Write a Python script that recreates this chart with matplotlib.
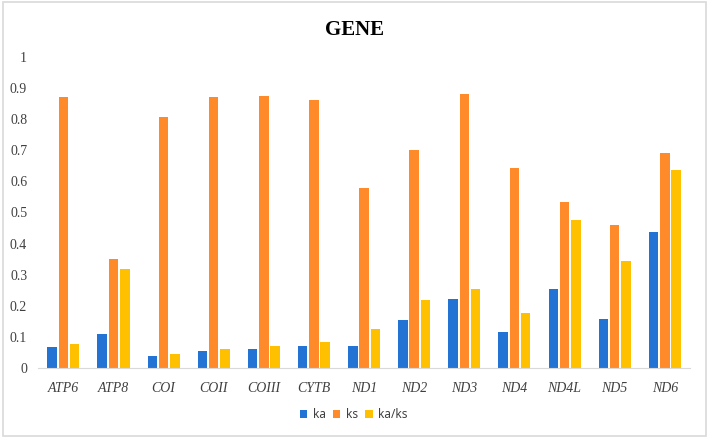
import matplotlib
matplotlib.use("Agg")
import matplotlib.pyplot as plt
import numpy as np
from matplotlib.patches import Rectangle

genes = ["ATP6", "ATP8", "COI", "COII", "COIII", "CYTB", "ND1", "ND2", "ND3", "ND4", "ND4L", "ND5", "ND6"]
ka = [0.067, 0.110, 0.038, 0.053, 0.062, 0.072, 0.072, 0.153, 0.222, 0.114, 0.255, 0.158, 0.438]
ks = [0.872, 0.350, 0.806, 0.872, 0.876, 0.860, 0.577, 0.700, 0.880, 0.643, 0.535, 0.460, 0.690]
ka_ks = [0.077, 0.317, 0.046, 0.061, 0.071, 0.084, 0.126, 0.220, 0.253, 0.178, 0.476, 0.343, 0.637]
yticks = [0, 0.1, 0.2, 0.3, 0.4, 0.5, 0.6, 0.7, 0.8, 0.9, 1]
ytick_labels = ["0", "0.1", "0.2", "0.3", "0.4", "0.5", "0.6", "0.7", "0.8", "0.9", "1"]

colors = ["#2273D3", "#FF8A2A", "#FFC000"]

fig = plt.figure(figsize=(7.09, 4.38), dpi=100)
fig.patches.append(Rectangle((0.004, 0.004), 0.992, 0.992, transform=fig.transFigure,
                             fill=False, edgecolor="#D9D9D9", linewidth=1.2))
ax = fig.add_axes([0.054, 0.16, 0.919, 0.71])

x = np.arange(len(genes))
w = 0.19
gap = 0.035
ax.bar(x - (w + gap), ka, w, color=colors[0], label="ka")
ax.bar(x, ks, w, color=colors[1], label="ks")
ax.bar(x + (w + gap), ka_ks, w, color=colors[2], label="ka/ks")

ax.set_xlim(-0.5, len(genes) - 0.5)
ax.set_ylim(0, 1)
ax.set_yticks(yticks)
ax.set_yticklabels(ytick_labels, fontfamily="Liberation Serif", fontsize=10, color="#404040")
ax.set_xticks(x)
ax.set_xticklabels(genes, fontfamily="Liberation Serif", fontstyle="italic", fontsize=10, color="#404040")
ax.tick_params(axis="both", length=0)
ax.tick_params(axis="x", pad=10)
ax.tick_params(axis="y", pad=8)
for s in ["top", "right", "left"]:
    ax.spines[s].set_visible(False)
ax.spines["bottom"].set_color("#D9D9D9")

fig.suptitle("GENE", fontfamily="Liberation Serif", fontweight="bold", fontsize=15, y=0.955)

leg = fig.legend(loc="center", bbox_to_anchor=(0.499, 0.053), ncol=3, frameon=False,
                 handlelength=0.65, handleheight=0.65, handletextpad=0.5, columnspacing=0.55,
                 prop={"family": "Noto Sans", "size": 8.5})
for t in leg.get_texts():
    t.set_color("#404040")

fig.savefig("out.png", dpi=100)
